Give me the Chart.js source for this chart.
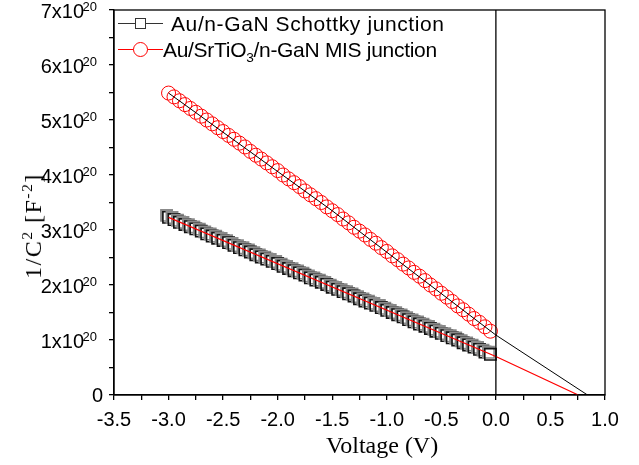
<!DOCTYPE html>
<html>
<head>
<meta charset="utf-8">
<script src="https://cdn.jsdelivr.net/npm/chart.js@4/dist/chart.umd.min.js"></script>
<style>
body { margin:0; background:#fff; }
#wrap { position:relative; width:639px; height:465px; overflow:hidden; }
#chart { position:absolute; left:0; top:0; }
.lbl { position:absolute; white-space:nowrap; color:#000; }
.leg { font-family:"Liberation Sans", Arial, sans-serif; font-size:21px; line-height:21px; }
.ttl { font-family:"Liberation Serif", "Times New Roman", serif; font-size:24px; line-height:24px; }
sup, sub { font-size:65%; line-height:0; }
</style>
</head>
<body>
<div id="wrap">
	<canvas id="chart" width="639" height="465"></canvas>

	<!-- legend: sample line + marker + text -->
	<div class="lbl" style="left:118px; top:23px; width:45px; height:1px; background:#333"></div>
	<div class="lbl" style="left:135px; top:18px; width:9px; height:9px; border:1px solid #333; background:#fff"></div>
	<div class="lbl leg" style="left:171px; top:13px; letter-spacing:0.6px">Au/n-GaN Schottky junction</div>
	<div class="lbl" style="left:118px; top:49px; width:45px; height:1px; background:#f00"></div>
	<div class="lbl" style="left:133px; top:42px; width:13px; height:13px; border:1px solid #f00; border-radius:50%; background:#fff"></div>
	<div class="lbl leg" style="left:163px; top:39px; letter-spacing:-0.3px">Au/SrTiO<sub>3</sub>/n-GaN MIS junction</div>

	<!-- axis titles -->
	<div class="lbl ttl" style="left:326px; top:433px">Voltage (V)</div>
	<div class="lbl ttl" style="left:33px; top:226px; letter-spacing:1.5px; transform:translate(-50%,-50%) rotate(-90deg)">1/C<sup>2</sup> [F<sup>-2</sup>]</div>
</div>

<script>
// bias voltage (V), one point every 0.05 V
voltage = [-3.00,-2.95,-2.90,-2.85,-2.80,-2.75,-2.70,-2.65,-2.60,-2.55,
	-2.50,-2.45,-2.40,-2.35,-2.30,-2.25,-2.20,-2.15,-2.10,-2.05,
	-2.00,-1.95,-1.90,-1.85,-1.80,-1.75,-1.70,-1.65,-1.60,-1.55,
	-1.50,-1.45,-1.40,-1.35,-1.30,-1.25,-1.20,-1.15,-1.10,-1.05,
	-1.00,-0.95,-0.90,-0.85,-0.80,-0.75,-0.70,-0.65,-0.60,-0.55,
	-0.50,-0.45,-0.40,-0.35,-0.30,-0.25,-0.20,-0.15,-0.10,-0.05];

// 1/C^2 in units of 1e20 F^-2
schottky = [3.23,3.19,3.14,3.10,3.06,3.02,2.98,2.93,2.89,2.85,
	2.81,2.77,2.72,2.68,2.64,2.60,2.55,2.51,2.47,2.43,
	2.39,2.34,2.30,2.26,2.22,2.18,2.13,2.09,2.05,2.01,
	1.96,1.92,1.88,1.84,1.80,1.75,1.71,1.67,1.63,1.59,
	1.54,1.50,1.46,1.42,1.37,1.33,1.29,1.25,1.21,1.16,
	1.12,1.08,1.04,1.00,0.95,0.91,0.87,0.83,0.78,0.74];

mis = [5.49,5.42,5.35,5.28,5.21,5.14,5.07,5.00,4.93,4.86,
	4.79,4.72,4.65,4.58,4.51,4.43,4.36,4.29,4.22,4.15,
	4.08,4.00,3.93,3.86,3.79,3.71,3.64,3.57,3.50,3.42,
	3.35,3.28,3.20,3.13,3.05,2.98,2.91,2.83,2.76,2.68,
	2.61,2.53,2.46,2.38,2.31,2.23,2.16,2.08,2.00,1.93,
	1.85,1.78,1.70,1.62,1.55,1.47,1.39,1.32,1.24,1.16];

// extrapolation lines down to the voltage axis
fitSchottkyV = [-3.00, 0.00, 0.755];
fitSchottkyY = [3.23, 0.70, 0.00];
fitMisV = [-3.00, -1.50, 0.00, 0.84];
fitMisY = [5.49, 3.35, 1.09, 0.00];

// vertical marker at 0 V
zeroLineV = [0, 0];
zeroLineY = [0, 7];

// y tick labels are mantissa x 10^20
yTickValues = [0, 1, 2, 3, 4, 5, 6, 7];
yExponent = "20";

function pairs(xs, ys)
{
	return xs.map((v, i) => ({x: v, y: ys[i]}));
}

var sansFont = '"Liberation Sans", Arial, sans-serif';

var decorPlugin = {
	id: 'decor',
	beforeDatasetDraw(chart, args) {
		// grey offset shadow behind the square symbols
		if (chart.data.datasets[args.index].shadow) {
			var ctx = chart.ctx;
			ctx.save();
			ctx.shadowColor = '#8a8a8a';
			ctx.shadowOffsetX = -2;
			ctx.shadowOffsetY = -2;
			ctx.shadowBlur = 0;
		}
	},
	afterDatasetDraw(chart, args) {
		if (chart.data.datasets[args.index].shadow) {
			chart.ctx.restore();
		}
	},
	afterDraw(chart) {
		var ctx = chart.ctx;
		var a = chart.chartArea;
		var y = chart.scales.y;
		ctx.save();
		ctx.strokeStyle = '#000';
		ctx.lineWidth = 1.3;
		ctx.strokeRect(a.left, a.top, a.right - a.left, a.bottom - a.top);

		ctx.fillStyle = '#000';
		ctx.textAlign = 'right';
		ctx.textBaseline = 'alphabetic';
		var right = a.left - 17;
		yTickValues.forEach(function(v) {
			var py = y.getPixelForValue(v);
			if (v === 0) {
				ctx.font = '20px ' + sansFont;
				ctx.fillText('0', a.left - 11, py + 7);
				return;
			}
			ctx.font = '13px ' + sansFont;
			ctx.fillText(yExponent, right, py + 0.5);
			var w = ctx.measureText(yExponent).width;
			ctx.font = '20px ' + sansFont;
			ctx.fillText(v + 'x10', right - w + 1.5, py + 8);
		});
		ctx.restore();
	}
};

var axisStyle = {
	border: {color: '#000', width: 1.3},
	grid: {drawOnChartArea: false, drawTicks: true, tickLength: 5, color: '#000', lineWidth: 1.3}
};

var ctx = document.getElementById('chart').getContext('2d');
chart = new Chart(ctx, {
	type: 'scatter',
	data: {
		datasets: [
			{
				label: 'zero',
				data: pairs(zeroLineV, zeroLineY),
				showLine: true,
				borderColor: '#000',
				borderWidth: 1.3,
				pointRadius: 0,
				order: 0
			},
			{
				label: 'fit Schottky',
				data: pairs(fitSchottkyV, fitSchottkyY),
				showLine: true,
				borderColor: '#ff0000',
				borderWidth: 1.2,
				pointRadius: 0,
				order: 1
			},
			{
				label: 'fit MIS',
				data: pairs(fitMisV, fitMisY),
				showLine: true,
				borderColor: '#000',
				borderWidth: 1,
				pointRadius: 0,
				order: 1
			},
			{
				label: 'Au/n-GaN Schottky junction',
				data: pairs(voltage, schottky),
				showLine: false,
				pointStyle: 'rect',
				pointRadius: 8,
				pointBorderWidth: 1.6,
				pointBorderColor: '#111',
				pointBackgroundColor: '#fff',
				shadow: true,
				order: 3
			},
			{
				label: 'Au/SrTiO3/n-GaN MIS junction',
				data: pairs(voltage, mis),
				showLine: false,
				pointStyle: 'circle',
				pointRadius: 7,
				pointBorderWidth: 1,
				pointBorderColor: '#ff0000',
				pointBackgroundColor: 'rgba(255,255,255,0)',
				order: 2
			}
		]
	},
	options: {
		responsive: false,
		animation: false,
		layout: {padding: {left: 0, right: 34, top: 10, bottom: 0}},
		plugins: {legend: {display: false}, tooltip: {enabled: false}},
		scales: {
			x: Object.assign({
				type: 'linear',
				min: -3.5,
				max: 1.0,
				afterFit: function(s) { s.height = 70; },
				ticks: {
					stepSize: 0.25,
					autoSkip: false,
					maxRotation: 0,
					padding: 8,
					color: '#000',
					font: {family: sansFont, size: 20},
					callback: function(v) {
						return Math.abs(v * 2 - Math.round(v * 2)) < 1e-6 ? v.toFixed(1) : '';
					}
				}
			}, axisStyle),
			y: Object.assign({
				type: 'linear',
				min: 0,
				max: 7,
				afterFit: function(s) { s.width = 114; },
				ticks: {display: false, stepSize: 0.5}
			}, axisStyle)
		}
	},
	plugins: [decorPlugin]
});
</script>
</body>
</html>
